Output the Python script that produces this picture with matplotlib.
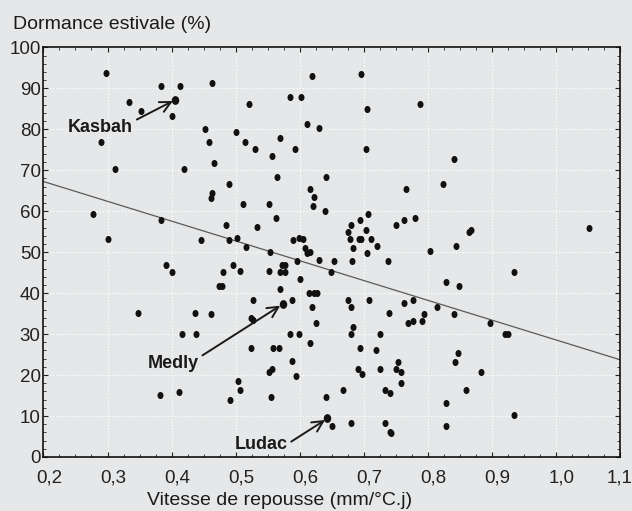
import numpy as np
import matplotlib
matplotlib.use('Agg')
import matplotlib.pyplot as plt
import matplotlib.transforms as mtransforms
from matplotlib.path import Path
from matplotlib.ticker import MultipleLocator, FuncFormatter

# vitesse de repousse (mm/°C.j) et dormance estivale (%)
vitesse = [0.298, 0.333, 0.3525, 0.384, 0.414, 0.406, 0.401, 0.464, 0.452, 0.500,
           0.458, 0.2895, 0.312, 0.420, 0.466, 0.490, 0.514, 0.521, 0.530, 0.557,
           0.570, 0.565, 0.585, 0.593, 0.6025, 0.611, 0.620, 0.631, 0.641, 0.6165,
           0.696, 0.705, 0.703, 0.767, 0.788, 0.841, 0.824, 0.464, 0.462, 0.2775,
           0.383, 0.485, 0.300, 0.446, 0.489, 0.502, 0.3915, 0.4015, 0.481, 0.496,
           0.507, 0.474, 0.4785, 0.347, 0.437, 0.461, 0.511, 0.5515, 0.563, 0.533,
           0.517, 0.5535, 0.5525, 0.572, 0.5775, 0.569, 0.5775, 0.569, 0.5735, 0.5885,
           0.5275, 0.5235, 0.5275, 0.622, 0.6205, 0.640, 0.590, 0.599, 0.6055, 0.609,
           0.611, 0.6165, 0.596, 0.631, 0.6535, 0.649, 0.6005, 0.614, 0.622, 0.628,
           0.619, 0.6255, 0.675, 0.6805, 0.678, 0.6945, 0.7075, 0.704, 0.6925, 0.6955,
           0.711, 0.683, 0.7055, 0.7205, 0.6815, 0.7385, 0.7505, 0.7625, 0.7805, 0.8035,
           0.675, 0.6805, 0.709, 0.684, 0.739, 0.763, 0.7765, 0.7945, 0.769, 0.7775,
           0.791, 0.865, 0.867, 0.845, 1.0525, 0.935, 0.829, 0.8485, 0.815, 0.8415,
           0.898, 0.416, 0.439, 0.382, 0.412, 0.492, 0.5045, 0.507, 0.5235, 0.559,
           0.5675, 0.585, 0.599, 0.616, 0.5875, 0.5515, 0.557, 0.594, 0.555, 0.642,
           0.6435, 0.650, 0.6685, 0.680, 0.680, 0.6945, 0.692, 0.6975, 0.719, 0.726,
           0.7255, 0.734, 0.7405, 0.733, 0.7405, 0.743, 0.750, 0.754, 0.758, 0.758,
           0.921, 0.926, 0.848, 0.8435, 0.883, 0.8605, 0.829, 0.829, 0.935]
dormance = [93.8, 86.6, 84.5, 90.5, 90.5, 87.2, 83.3, 91.3, 80.1, 79.3,
            76.8, 76.8, 70.3, 70.3, 71.8, 66.7, 76.9, 86.1, 75.2, 73.5,
            77.9, 68.4, 87.9, 75.2, 87.9, 81.4, 93.1, 80.2, 68.4, 65.3,
            93.4, 84.9, 75.2, 65.3, 86.1, 72.8, 66.7, 64.4, 63.3, 59.3,
            57.8, 56.7, 53.2, 52.9, 52.9, 53.5, 46.8, 45.1, 45.1, 46.8,
            45.3, 41.7, 41.7, 35.2, 35.2, 35.0, 61.7, 61.7, 58.3, 56.1,
            51.2, 50.0, 45.3, 46.8, 46.8, 45.1, 45.1, 40.9, 37.3, 38.3,
            38.3, 33.9, 33.4, 63.4, 61.3, 60.0, 52.9, 53.5, 53.3, 51.0,
            49.9, 50.0, 47.8, 48.2, 47.8, 45.2, 43.4, 40.0, 40.0, 40.0,
            36.6, 32.6, 55.0, 56.7, 53.2, 57.8, 59.3, 55.3, 53.2, 53.2,
            53.2, 50.9, 49.9, 51.6, 47.8, 47.8, 56.7, 57.8, 58.3, 50.4,
            38.3, 36.6, 38.3, 31.7, 35.1, 37.7, 38.3, 34.9, 32.6, 33.3,
            33.3, 55.0, 55.4, 51.6, 56.0, 45.1, 42.7, 41.7, 36.6, 35.0,
            32.6, 29.9, 30.1, 15.1, 15.9, 13.8, 18.6, 16.4, 26.5, 26.5,
            26.5, 29.9, 30.1, 27.8, 23.4, 20.8, 21.5, 19.8, 14.7, 14.7,
            9.4, 7.6, 16.4, 8.2, 29.9, 26.5, 21.5, 20.3, 26.1, 29.9,
            21.5, 16.4, 15.7, 8.2, 6.2, 5.8, 21.5, 23.1, 20.8, 18.1,
            30.1, 30.1, 25.3, 23.2, 20.8, 16.4, 13.3, 7.6, 10.2]

# variétés annotées
noms = ['Kasbah', 'Medly', 'Ludac']
noms_x = [0.406, 0.5735, 0.6435]
noms_y = [87.2, 37.3, 9.4]

# droite de régression
pente = -48.3
ordonnee = 76.9

xticks = [0.2, 0.3, 0.4, 0.5, 0.6, 0.7, 0.8, 0.9, 1.0, 1.1]
yticks = [0, 10, 20, 30, 40, 50, 60, 70, 80, 90, 100]

fond = '#e6e7e8'
plt.rcParams['font.family'] = ['Liberation Sans', 'DejaVu Sans']

fig = plt.figure(figsize=(6.32, 5.11), dpi=100, facecolor=fond)
ax = fig.add_axes([0.0688, 0.1057, 0.9117, 0.8017])
ax.set_facecolor(fond)

# point légèrement ovale
cercle = Path.unit_circle()
ovale = Path(cercle.vertices * np.array([0.85, 1.0]), cercle.codes)

xl = np.array([0.2, 1.1])
ax.plot(xl, ordonnee + pente * xl, color='#5a5a5a', lw=0.9, zorder=2)
ax.scatter(vitesse, dormance, marker=ovale, s=26, color='#111111', lw=0, zorder=3)
ax.scatter(noms_x, noms_y, marker=ovale, s=40, color='#111111', lw=0, zorder=3)

decalages = [(-54, -20), (-79, -43), (-48, -18.5)]
relpos = [(1.0, 0.85), (1.0, 0.85), (1.0, 0.5)]
for nom, x, y, d, r in zip(noms, noms_x, noms_y, decalages, relpos):
    ax.annotate(nom, xy=(x, y), xytext=d, textcoords='offset points',
                ha='center', va='center', fontsize=13, fontweight='bold', color='#1a1a1a',
                arrowprops=dict(arrowstyle='->,head_length=0.6,head_width=0.3',
                                color='#1a1a1a', lw=1.4, relpos=r,
                                shrinkA=1, shrinkB=2))

ax.set_xlim(0.2, 1.1)
ax.set_ylim(0, 100)
ax.set_xticks(xticks)
ax.set_yticks(yticks)
ax.xaxis.set_minor_locator(MultipleLocator(0.025))
ax.yaxis.set_minor_locator(MultipleLocator(2))
ax.xaxis.set_major_formatter(FuncFormatter(lambda v, p: ('%.1f' % v).replace('.', ',')))
ax.tick_params(which='both', direction='in', top=True, right=True, color='#222222',
               labelcolor='#222222', labelsize=13.5)
ax.tick_params(which='major', length=3.5, width=0.8)
ax.tick_params(which='minor', length=2, width=0.6)
ax.tick_params(axis='x', pad=9)
ax.tick_params(axis='y', pad=2)
ax.grid(True, which='major', color='white', linestyle=(0, (1, 1.5)), lw=0.9, zorder=1)
ax.set_axisbelow(True)
for s in ax.spines.values():
    s.set_linewidth(1.2)
    s.set_color('#111111')

# étiquettes de l'axe x légèrement décalées à droite (la dernière reste dans la figure)
labs = ax.get_xticklabels()
for i, lab in enumerate(labs):
    dx = 0.06 if i < len(labs) - 1 else 0.0
    lab.set_transform(lab.get_transform() + mtransforms.ScaledTranslation(dx, 0, fig.dpi_scale_trans))

fig.text(0.443, 0.0196, 'Vitesse de repousse (mm/°C.j)', fontsize=14, color='#1a1a1a',
         ha='center', va='center')
fig.text(0.021, 0.953, 'Dormance estivale (%)', fontsize=14, color='#1a1a1a',
         ha='left', va='center')

fig.savefig('out.png', dpi=100, facecolor=fond)
